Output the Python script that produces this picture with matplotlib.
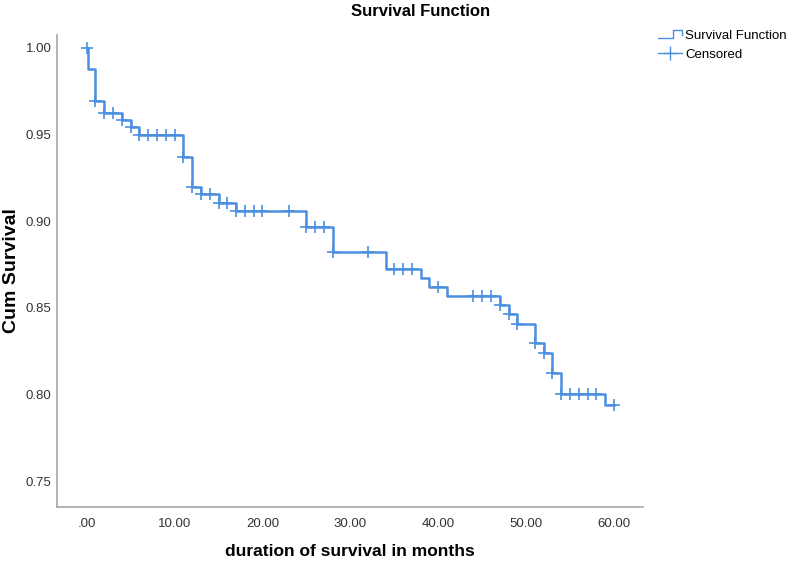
import numpy as np
import matplotlib
matplotlib.use("Agg")
import matplotlib.pyplot as plt
from matplotlib.lines import Line2D
from matplotlib.legend_handler import HandlerBase

plt.rcParams["font.family"] = ["Liberation Sans", "DejaVu Sans"]

# ---- data ------------------------------------------------------------------
event_times = [0.1, 1, 2, 4, 5, 6, 11, 12, 13, 15, 17, 25, 28, 34, 38, 39, 41,
               47, 48, 49, 51, 52, 53, 54, 59]
surv = [0.9877, 0.9696, 0.9623, 0.9584, 0.9542, 0.9498, 0.9372, 0.9197, 0.9155,
        0.9107, 0.9061, 0.8965, 0.8822, 0.8722, 0.8670, 0.8618, 0.8570, 0.8516,
        0.8462, 0.8410, 0.8298, 0.8241, 0.8122, 0.8002, 0.7939]
censor_times = [0, 1, 2, 3, 4, 5, 6, 7, 8, 9, 10, 11, 12, 13, 14, 15, 16, 17, 18,
                19, 20, 23, 25, 26, 27, 28, 32, 35, 36, 37, 40, 44, 45, 46, 47, 48,
                49, 51, 52, 53, 54, 55, 56, 57, 58, 60]
end_time = 60
xticks = [0, 10, 20, 30, 40, 50, 60]
yticks = [0.75, 0.80, 0.85, 0.90, 0.95, 1.00]

BLUE = "#4a8fe0"

# step curve + censor positions
xs = np.r_[0, event_times, end_time]
ys = np.r_[1.0, surv, surv[-1]]
idx = np.searchsorted(event_times, censor_times, side="right")
cens_y = np.r_[1.0, surv][idx]


class StepHandler(HandlerBase):
    def create_artists(self, legend, orig_handle, xdescent, ydescent, width,
                       height, fontsize, trans):
        hx = np.array([0.0, 0.62, 0.62, 1.0, 1.0]) * width - xdescent
        hy = np.array([0.1, 0.1, 0.95, 0.95, 0.45]) * height - ydescent
        ln = Line2D(hx, hy, color=BLUE, lw=1.0, transform=trans)
        return [ln]


fig = plt.figure(figsize=(7.87, 5.63), dpi=100)
ax = fig.add_axes([57 / 787, 1 - 507 / 563, 586 / 787, 472 / 563])

ax.step(xs, ys, where="post", color=BLUE, lw=1.8)
ax.plot(censor_times, cens_y, ls="none", marker="+", ms=9, mew=1.2, color=BLUE)

ax.set_xlim(-3.38, 63.3)
ax.set_ylim(0.7351, 1.0075)
ax.set_xticks(xticks)
ax.set_xticklabels([".00" if v == 0 else f"{v:.2f}" for v in xticks])
ax.set_yticks(yticks)
ax.set_yticklabels([f"{v:.2f}" for v in yticks])
ax.tick_params(length=0, labelsize=9.5, labelcolor="#333333")
ax.tick_params(axis="x", pad=8)
ax.tick_params(axis="y", pad=4)
for s in ("top", "right"):
    ax.spines[s].set_visible(False)
for s in ("left", "bottom"):
    ax.spines[s].set_color("#a6a6a6")
    ax.spines[s].set_linewidth(1.2)

fig.text(421 / 787, 1 - 11 / 563, "Survival Function", ha="center", va="center",
         fontsize=12, fontweight="bold")
fig.text(12 / 787, 1 - 271 / 563, "Cum Survival", ha="center", va="center",
         rotation=90, fontsize=14, fontweight="bold")
fig.text(350 / 787, 1 - 551 / 563, "duration of survival in months", ha="center",
         va="center", fontsize=12.5, fontweight="bold")

h_surv = Line2D([], [], color=BLUE)
h_cens = Line2D([], [], color=BLUE, lw=1.0, marker="+", ms=10, mew=1.0)
fig.legend([h_surv, h_cens], ["Survival Function", "Censored"],
           handler_map={h_surv: StepHandler()},
           loc="upper left", bbox_to_anchor=(658 / 787, 1 - 30 / 563),
           frameon=False, fontsize=9.5, handlelength=1.8, handletextpad=0.25,
           labelspacing=0.5, borderaxespad=0, borderpad=0)

fig.savefig("out.png", dpi=100)
